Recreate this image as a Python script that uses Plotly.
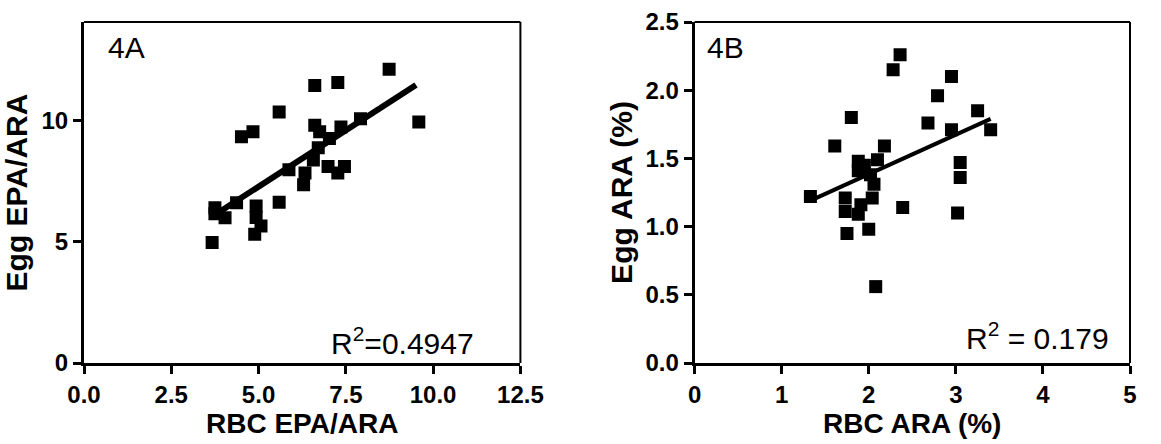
import plotly.graph_objects as go

# ---- Panel 4A data ----
a_x = [8.74, 7.27, 6.61, 5.59, 7.92, 9.59, 6.61, 7.36, 6.75, 7.03, 4.51, 4.84, 6.71, 6.57, 6.99,
       7.46, 7.27, 5.87, 6.33, 6.29, 5.59, 4.37, 4.93, 4.93, 5.07, 4.89, 3.67, 3.75, 3.75, 4.04]
a_y = [12.11, 11.57, 11.44, 10.35, 10.07, 9.94, 9.80, 9.73, 9.53, 9.26, 9.33, 9.53, 8.88, 8.37, 8.10,
       8.10, 7.83, 7.97, 7.83, 7.35, 6.63, 6.61, 6.47, 6.00, 5.65, 5.31, 4.97, 6.40, 6.15, 5.99]
a_fit_x = [3.62, 9.51]
a_fit_y = [5.99, 11.46]
a_xticks = [0, 2.5, 5, 7.5, 10, 12.5]
a_xticklabels = ["0.0", "2.5", "5.0", "7.5", "10.0", "12.5"]
a_yticks = [0, 5, 10]
a_yticklabels = ["0", "5", "10"]

# ---- Panel 4B data ----
b_x = [2.36, 2.28, 2.95, 2.79, 3.25, 1.80, 2.68, 2.95, 3.40, 1.61, 2.18, 1.88, 2.10, 1.88, 1.95,
       2.02, 3.05, 3.05, 1.33, 1.73, 1.73, 1.91, 1.88, 2.06, 2.04, 2.39, 3.02, 1.75, 2.00, 2.08]
b_y = [2.26, 2.15, 2.10, 1.96, 1.85, 1.80, 1.76, 1.71, 1.71, 1.59, 1.59, 1.48, 1.49, 1.41, 1.45,
       1.38, 1.47, 1.36, 1.22, 1.21, 1.11, 1.16, 1.09, 1.31, 1.21, 1.14, 1.10, 0.95, 0.98, 0.56]
b_fit_x = [1.33, 3.40]
b_fit_y = [1.19, 1.79]
b_xticks = [0, 1, 2, 3, 4, 5]
b_xticklabels = ["0", "1", "2", "3", "4", "5"]
b_yticks = [0, 0.5, 1.0, 1.5, 2.0, 2.5]
b_yticklabels = ["0.0", "0.5", "1.0", "1.5", "2.0", "2.5"]

FONT = "Liberation Sans, Arial, sans-serif"
W, H = 1161, 444
ML, MR, MT, MB = 84, 8, 19, 81
PW = W - ML - MR

fig = go.Figure()
fig.add_trace(go.Scatter(x=a_x, y=a_y, mode="markers", xaxis="x", yaxis="y",
                         marker=dict(symbol="square", size=13, color="black"), showlegend=False))
fig.add_trace(go.Scatter(x=a_fit_x, y=a_fit_y, mode="lines", xaxis="x", yaxis="y",
                         line=dict(color="black", width=6), showlegend=False))
fig.add_trace(go.Scatter(x=b_x, y=b_y, mode="markers", xaxis="x2", yaxis="y2",
                         marker=dict(symbol="square", size=13, color="black"), showlegend=False))
fig.add_trace(go.Scatter(x=b_fit_x, y=b_fit_y, mode="lines", xaxis="x2", yaxis="y2",
                         line=dict(color="black", width=4), showlegend=False))

tickfont = dict(family=FONT, size=24, color="black", weight="bold")
xtitlefont = dict(family=FONT, size=28, color="black", weight="bold")
ytitlefont = dict(family=FONT, size=30, color="black", weight="bold")
common = dict(showgrid=False, zeroline=False, showline=True, linecolor="black", linewidth=3,
              ticks="outside", ticklen=8, tickwidth=2.5, tickcolor="black", tickfont=tickfont)

a_dom = [0, (530 - ML) / PW]
b_dom = [(708 - ML) / PW, 1]

fig.update_layout(
    width=W, height=H, margin=dict(l=ML, r=MR, t=MT, b=MB),
    paper_bgcolor="white", plot_bgcolor="white",
    xaxis=dict(domain=a_dom, range=[0, 12.5], tickvals=a_xticks, ticktext=a_xticklabels,
               anchor="y", title=dict(text="RBC EPA/ARA", font=xtitlefont, standoff=6), **common),
    yaxis=dict(domain=[0, 1], range=[0, 14.06], tickvals=a_yticks, ticktext=a_yticklabels,
               anchor="x", title=dict(text="Egg EPA/ARA", font=ytitlefont, standoff=5), **common),
    xaxis2=dict(domain=b_dom, range=[0, 5], tickvals=b_xticks, ticktext=b_xticklabels,
                anchor="y2", title=dict(text="RBC ARA (%)", font=xtitlefont, standoff=6), **common),
    yaxis2=dict(domain=[0, 1], range=[0, 2.5], tickvals=b_yticks, ticktext=b_yticklabels,
                anchor="x2", title=dict(text="Egg ARA (%)", font=ytitlefont, standoff=4), **common),
)

# thinner top/right frame lines
for xd, yd in (("x domain", "y domain"), ("x2 domain", "y2 domain")):
    fig.add_shape(type="line", xref=xd, yref=yd, x0=0, x1=1, y0=1, y1=1,
                  line=dict(color="black", width=2))
    fig.add_shape(type="line", xref=xd, yref=yd, x0=1, x1=1, y0=0, y1=1,
                  line=dict(color="black", width=2))

txtfont = dict(family=FONT, size=30, color="black")
fig.add_annotation(x=0.64, y=13.0, xref="x", yref="y", text="4A", showarrow=False,
                   xanchor="left", yanchor="middle", font=txtfont)
fig.add_annotation(x=0.124, y=2.315, xref="x2", yref="y2", text="4B", showarrow=False,
                   xanchor="left", yanchor="middle", font=txtfont)
fig.add_annotation(x=11.24, y=0.92, xref="x", yref="y", text="R<sup>2</sup>=0.4947",
                   showarrow=False, xanchor="right", yanchor="middle", font=txtfont)
fig.add_annotation(x=4.78, y=0.20, xref="x2", yref="y2", text="R<sup>2</sup> = 0.179",
                   showarrow=False, xanchor="right", yanchor="middle", font=txtfont)

fig.write_html("out.html")
